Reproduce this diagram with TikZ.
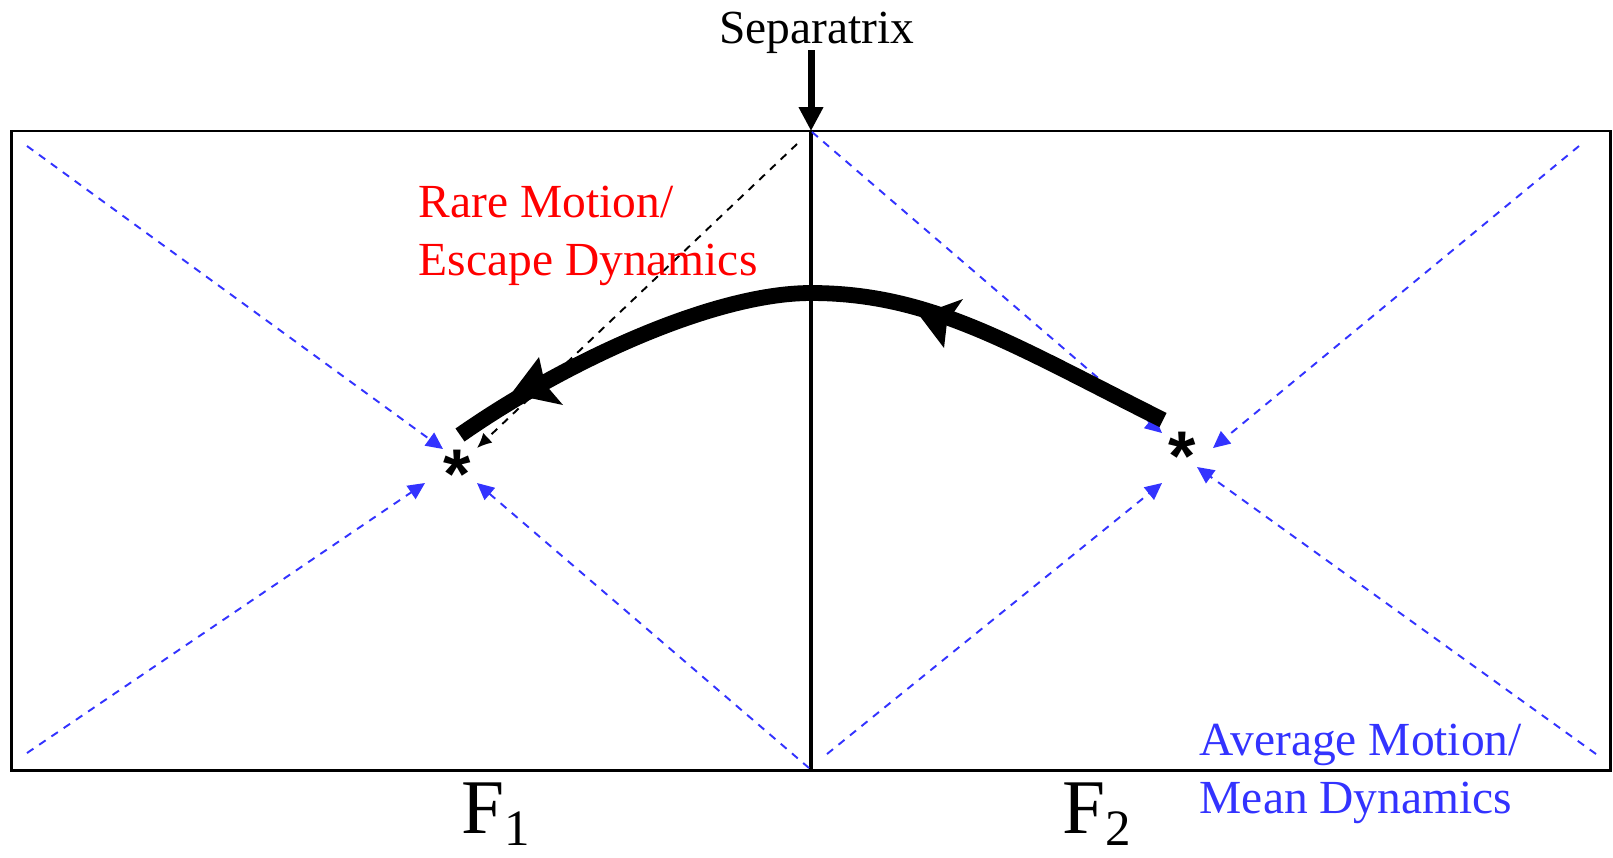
\documentclass[tikz,border=0pt]{standalone}
\usepackage{fontspec}
\setmainfont{Liberation Serif}
\newfontfamily\starfont{Liberation Sans}
\usetikzlibrary{arrows.meta}
\definecolor{meanblue}{RGB}{51,51,255}
\definecolor{rarered}{RGB}{255,0,0}
\begin{document}
\begin{tikzpicture}[x=0.01cm,y=-0.01cm,
  frame/.style={line width=0.6pt},
  sepline/.style={line width=0.9pt},
  meanflow/.style={meanblue, line width=0.55pt, dash pattern=on 2.2pt off 2pt, -{Triangle[length=4.8pt,width=4.5pt]}},
  rareflow/.style={black, line width=0.55pt, dash pattern=on 2.2pt off 2pt, -{Latex[length=4.2pt,width=3.8pt]}},
  separrow/.style={line width=2pt, -{Triangle[length=6.8pt,width=6.6pt]}},
  escape/.style={line width=4.5pt},
  headfill/.style={fill=black},
  lbl/.style={font=\fontsize{13.5}{16}\selectfont, inner sep=0pt, anchor=base west},
  starmark/.style={font=\starfont\bfseries\fontsize{20}{20}\selectfont, inner sep=0pt, anchor=base},
  flabel/.style={font=\fontsize{22}{22}\selectfont, inner sep=0pt, anchor=base west}
]
\useasboundingbox (0,0) rectangle (1613,857);
% frame
\coordinate (boxTL) at (11.5,131);
\coordinate (boxBR) at (1610.5,770.5);
\draw[frame] (boxTL) rectangle (boxBR);
% separatrix
\coordinate (sepTop) at (811,131);
\coordinate (sepBot) at (811,770);
\coordinate (sepStart) at (811,50);
\draw[sepline] (sepTop) -- (sepBot);
\node[lbl, anchor=base] (seplabel) at (817,43) {Separatrix};
\draw[separrow] (sepStart) -- (sepTop);
% stars
\node[starmark] (s1) at (457,498) {*};
\node[starmark] (s2) at (1182,480) {*};
% left panel flows
\coordinate (l1) at (27,146);   \coordinate (l1t) at (443,449);
\coordinate (l2) at (27,753);   \coordinate (l2t) at (425,483);
\coordinate (l3) at (809,768);  \coordinate (l3t) at (477,483);
\coordinate (l4) at (797,144);  \coordinate (l4t) at (477,448);
\draw[meanflow] (l1) -- (l1t);
\draw[meanflow] (l2) -- (l2t);
\draw[meanflow] (l3) -- (l3t);
\draw[rareflow] (l4) -- (l4t);
% right panel flows
\coordinate (r1) at (812,132);  \coordinate (r1t) at (1162,433);
\coordinate (r2) at (1579,146); \coordinate (r2t) at (1213,448);
\coordinate (r3) at (1596,754); \coordinate (r3t) at (1197,467);
\coordinate (r4) at (827,754);  \coordinate (r4t) at (1162,483);
\draw[meanflow] (r1) -- (r1t);
\draw[meanflow] (r2) -- (r2t);
\draw[meanflow] (r3) -- (r3t);
\draw[meanflow] (r4) -- (r4t);
% escape path
\coordinate (c2) at (1163,420);
\coordinate (ctop) at (811,293);
\coordinate (c1) at (460,435);
\draw[escape] (c2) .. controls (1013,345) and (931,293) .. (ctop)
  .. controls (711,293) and (560,365) .. (c1);
\fill[headfill] (511,394) -- (539,357) -- (545,384) -- (563,405) -- cycle;
\fill[headfill] (919,315) -- (963,299) -- (947,322) -- (944,348) -- cycle;
% labels
\node[lbl, text=rarered] (rare1) at (418,217) {Rare Motion/};
\node[lbl, text=rarered] (rare2) at (418,275) {Escape Dynamics};
\node[lbl, text=meanblue] (mean1) at (1199,755) {Average Motion/};
\node[lbl, text=meanblue] (mean2) at (1199,813) {Mean Dynamics};
\node[flabel] (F1) at (461,833) {F\raisebox{-3.5pt}{\fontsize{14.5}{14.5}\selectfont 1}};
\node[flabel] (F2) at (1062,833) {F\raisebox{-3.5pt}{\fontsize{14.5}{14.5}\selectfont 2}};
\end{tikzpicture}
\end{document}
